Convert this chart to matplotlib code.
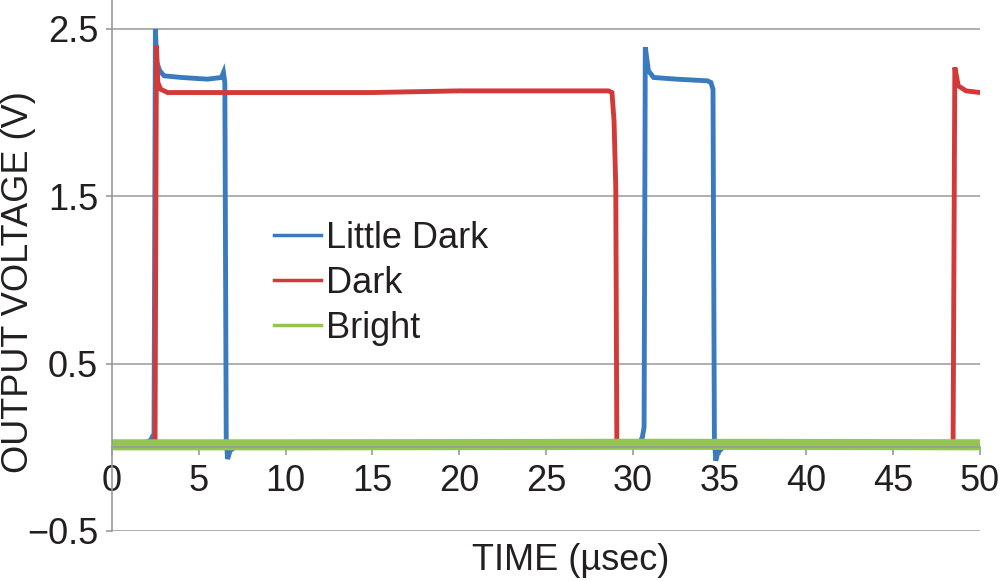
import matplotlib.pyplot as plt

plt.rcParams['font.family'] = ['Liberation Sans', 'DejaVu Sans']

# Values (time in usec, output in volts)
little_dark_t = [0, 1.5, 2.2, 2.42, 2.5, 2.58, 2.75, 3.0, 4.0, 5.5, 6.3, 6.42, 6.5, 6.58, 6.66, 6.8, 7.2,
                 30.3, 30.55, 30.65, 30.72, 30.9, 31.2, 32.5, 34.3, 34.5, 34.62, 34.7, 34.78, 34.9, 35.3, 50]
little_dark_v = [0.01, 0.01, 0.04, 0.08, 2.50, 2.30, 2.25, 2.22, 2.21, 2.20, 2.21, 2.24, 2.18, 0.05, -0.07, -0.02, 0.01,
                 0.01, 0.06, 0.12, 2.39, 2.25, 2.21, 2.20, 2.19, 2.18, 2.14, 0.05, -0.08, -0.03, 0.01, 0.01]

dark_t = [0, 2.3, 2.48, 2.56, 2.64, 2.8, 3.2, 5, 10, 15, 20, 25, 28.6, 28.8, 28.92, 29.02, 29.08, 29.3,
          40, 48.3, 48.45, 48.55, 48.75, 49.2, 50]
dark_v = [0.01, 0.01, 0.03, 2.40, 2.18, 2.14, 2.12, 2.12, 2.12, 2.12, 2.13, 2.13, 2.13, 2.12, 1.95, 1.55, 0.02, 0.005,
          0.005, 0.005, 0.02, 2.27, 2.16, 2.13, 2.12]

bright_t = [0, 10, 20, 30, 40, 50]
bright_v = [0.015, 0.015, 0.016, 0.018, 0.017, 0.015]

series = [
    ("Little Dark", little_dark_t, little_dark_v, "#3a7bc0", 3.5),
    ("Dark", dark_t, dark_v, "#d23a3a", 3.5),
    ("Bright", bright_t, bright_v, "#94c54e", 8.0),
]

xticks = [0, 5, 10, 15, 20, 25, 30, 35, 40, 45, 50]
yticks = [-0.5, 0.5, 1.5, 2.5]
ytick_labels = ["\u22120.5", "0.5", "1.5", "2.5"]

text_color = "#231f20"
axis_gray = "#9a9a9a"

fig = plt.figure(figsize=(10, 5.81), dpi=100)
ax = fig.add_axes([0.112, 0.0861, 0.868, 0.9139])

handles = []
for name, t, v, color, lw in series:
    (h,) = ax.plot(t, v, color=color, linewidth=lw, solid_joinstyle="miter")
    handles.append(h)

ax.set_xlim(0, 50)
ax.set_ylim(-0.5, 2.673)

ax.set_yticks(yticks)
ax.set_yticklabels(ytick_labels)
ax.set_xticks(xticks)

ax.yaxis.grid(True, color="#a8a8a8", linewidth=1.3)
ax.set_axisbelow(True)

ax.spines["top"].set_visible(False)
ax.spines["right"].set_visible(False)
ax.spines["bottom"].set_position(("data", 0))
ax.spines["bottom"].set_color(axis_gray)
ax.spines["left"].set_color(axis_gray)
ax.spines["bottom"].set_linewidth(1.2)
ax.spines["left"].set_linewidth(1.2)

ax.tick_params(axis="x", direction="out", length=6, width=1.2, color=axis_gray,
               labelsize=26, labelcolor=text_color, pad=6)
ax.tick_params(axis="y", direction="out", length=4, width=1.2, color=axis_gray,
               labelsize=26, labelcolor=text_color, pad=6)

ax.set_xlabel("TIME (\u00b5sec)", fontsize=26, color=text_color)
ax.set_ylabel("OUTPUT VOLTAGE (V)", fontsize=26, color=text_color)
ax.xaxis.set_label_coords(0.529, -0.055)
ax.xaxis.label.set_va("center")
ax.yaxis.set_label_coords(-0.108, 0.469)
ax.yaxis.label.set_va("center")

leg = ax.legend(handles, [s[0] for s in series], loc="upper left",
                bbox_to_anchor=(0.274, 0.62), bbox_transform=fig.transFigure,
                frameon=False, fontsize=26, handlelength=1.3, handletextpad=0.15,
                labelspacing=0.28, borderpad=0, borderaxespad=0)
for line in leg.get_lines():
    line.set_linewidth(2.5)
for txt in leg.get_texts():
    txt.set_color(text_color)

fig.savefig("out.png", dpi=100)
